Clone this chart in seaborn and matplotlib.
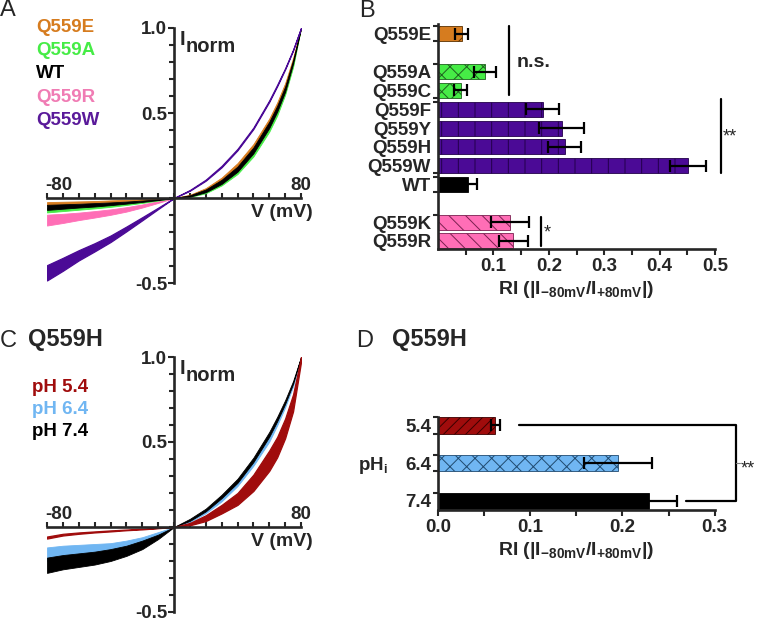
import numpy as np
import pandas as pd
import matplotlib
matplotlib.use("Agg")
import matplotlib.pyplot as plt
import seaborn as sns

sns.set_style("ticks")
plt.rcParams['font.family'] = ['Liberation Sans', 'DejaVu Sans']
plt.rcParams['font.weight'] = 'bold'
plt.rcParams['axes.labelweight'] = 'bold'
plt.rcParams['mathtext.fontset'] = 'custom'
plt.rcParams['mathtext.rm'] = 'Liberation Sans:bold'
plt.rcParams['mathtext.bf'] = 'Liberation Sans:bold'
plt.rcParams['mathtext.it'] = 'Liberation Sans:bold'
plt.rcParams['hatch.linewidth'] = 0.7

# ---- IV curves (mean +/- sem), normalised to +80 mV ----
volts = [-80, -70, -60, -50, -40, -30, -20, -10, 0, 10, 20, 30, 40, 50, 60, 65, 70, 75, 80]

wt_mean = [-0.055, -0.05, -0.045, -0.04, -0.034, -0.027, -0.019, -0.01, 0, 0.012, 0.042, 0.095, 0.17, 0.28, 0.43, 0.525, 0.64, 0.8, 1.0]
wt_sem = [0.015, 0.013, 0.011, 0.01, 0.008, 0.006, 0.004, 0.002, 0, 0.004, 0.008, 0.012, 0.015, 0.017, 0.018, 0.017, 0.015, 0.01, 0]
e_mean = [-0.032, -0.029, -0.026, -0.023, -0.019, -0.015, -0.011, -0.006, 0, 0.016, 0.052, 0.112, 0.195, 0.305, 0.455, 0.55, 0.665, 0.815, 1.0]
e_sem = [0.008, 0.007, 0.006, 0.005, 0.005, 0.004, 0.003, 0.002, 0, 0.003, 0.006, 0.008, 0.01, 0.012, 0.012, 0.012, 0.01, 0.008, 0]
a_mean = [-0.072, -0.065, -0.058, -0.051, -0.044, -0.035, -0.025, -0.013, 0, 0.009, 0.034, 0.083, 0.153, 0.258, 0.405, 0.5, 0.62, 0.78, 1.0]
a_sem = [0.013, 0.012, 0.011, 0.01, 0.008, 0.006, 0.004, 0.002, 0, 0.003, 0.006, 0.009, 0.012, 0.014, 0.015, 0.015, 0.013, 0.01, 0]
r_mean = [-0.13, -0.12, -0.108, -0.096, -0.083, -0.067, -0.047, -0.024, 0, 0.011, 0.04, 0.09, 0.163, 0.27, 0.42, 0.515, 0.632, 0.79, 1.0]
r_sem = [0.032, 0.027, 0.022, 0.019, 0.016, 0.013, 0.009, 0.005, 0, 0.003, 0.006, 0.009, 0.012, 0.014, 0.015, 0.014, 0.012, 0.009, 0]
w_mean = [-0.44, -0.39, -0.337, -0.29, -0.24, -0.182, -0.122, -0.061, 0, 0.045, 0.105, 0.185, 0.285, 0.41, 0.57, 0.662, 0.76, 0.87, 1.0]
w_sem = [0.045, 0.038, 0.03, 0.024, 0.019, 0.014, 0.009, 0.004, 0, 0.002, 0.003, 0.004, 0.004, 0.004, 0.004, 0.004, 0.003, 0.002, 0]

ph74_mean = [-0.225, -0.207, -0.195, -0.183, -0.165, -0.14, -0.105, -0.058, 0, 0.042, 0.1, 0.18, 0.272, 0.395, 0.545, 0.635, 0.735, 0.85, 1.0]
ph74_sem = [0.045, 0.042, 0.04, 0.038, 0.035, 0.03, 0.025, 0.013, 0, 0.006, 0.008, 0.01, 0.012, 0.013, 0.014, 0.013, 0.011, 0.008, 0]
ph64_mean = [-0.16, -0.145, -0.135, -0.125, -0.117, -0.1, -0.075, -0.04, 0, 0.035, 0.088, 0.16, 0.252, 0.372, 0.515, 0.61, 0.715, 0.835, 1.0]
ph64_sem = [0.04, 0.035, 0.03, 0.025, 0.022, 0.02, 0.015, 0.01, 0, 0.005, 0.007, 0.009, 0.011, 0.012, 0.013, 0.012, 0.011, 0.008, 0]
ph54_mean = [-0.062, -0.045, -0.036, -0.029, -0.023, -0.017, -0.012, -0.006, 0, 0.017, 0.052, 0.105, 0.165, 0.26, 0.39, 0.47, 0.58, 0.73, 0.985]
ph54_sem = [0.006, 0.005, 0.004, 0.003, 0.003, 0.002, 0.002, 0.001, 0, 0.007, 0.017, 0.025, 0.035, 0.048, 0.06, 0.06, 0.058, 0.05, 0.015]

# ---- rectification index bars ----
b_labels = ['Q559E', 'Q559A', 'Q559C', 'Q559F', 'Q559Y', 'Q559H', 'Q559W', 'WT', 'Q559K', 'Q559R']
b_ri = [0.043, 0.085, 0.041, 0.189, 0.223, 0.229, 0.451, 0.055, 0.130, 0.136]
b_sem = [0.012, 0.020, 0.012, 0.030, 0.040, 0.030, 0.033, 0.015, 0.034, 0.026]
b_order = ['Q559E', ' ', 'Q559A', 'Q559C', 'Q559F', 'Q559Y', 'Q559H', 'Q559W', 'WT', '  ', 'Q559K', 'Q559R']

d_labels = ['5.4', '6.4', '7.4']
d_ri = [0.062, 0.195, 0.229]
d_sem = [0.005, 0.037, 0.030]

ORANGE = '#d67c1f'
GREEN = '#46ec46'
PURPLE = '#4b0a96'
PINK = '#ff6eb6'
RED = '#a00c0c'
BLUE = '#70b6f2'

b_colors = [ORANGE, GREEN, GREEN, PURPLE, PURPLE, PURPLE, PURPLE, 'black', PINK, PINK]
b_edges = ['#5a3000', '#1f5f1f', '#1f5f1f', '#22004a', '#22004a', '#22004a', '#22004a', 'black', '#7a2050', '#7a2050']
b_hatch = ['/', 'xx', 'xx', '|', '|', '|', '|', '', '\\\\', '\\\\']
d_colors = [RED, BLUE, 'black']
d_edges = ['#3a0000', '#204a70', 'black']
d_hatch = ['///', 'xx', '']

W, H = 758, 619
fig = plt.figure(figsize=(W / 100, H / 100), dpi=100)


def px(x, y):
    return x / W, 1 - y / H


def rect(x0, y0, x1, y1):
    return [x0 / W, 1 - y1 / H, (x1 - x0) / W, (y1 - y0) / H]


def iv_axes(r):
    ax = fig.add_axes(r)
    ax.set_xlim(-80, 80)
    ax.set_ylim(-0.5, 1.0)
    for s in ['top', 'right']:
        ax.spines[s].set_visible(False)
    ax.spines['left'].set_position(('data', 0))
    ax.spines['bottom'].set_position(('data', 0))
    for s in ['left', 'bottom']:
        ax.spines[s].set_linewidth(1.9)
    ax.set_xticks(np.arange(-80, 81, 10))
    ax.set_xticklabels([])
    ax.tick_params(axis='x', direction='in', length=3.5, width=1.5)
    ax.set_yticks([-0.5, 0.5, 1.0])
    ax.set_yticklabels(['-0.5', '0.5', '1.0'], fontsize=13.5, fontweight='bold')
    ax.set_yticks(np.arange(-0.5, 1.01, 0.1), minor=True)
    ax.tick_params(axis='y', which='major', direction='out', length=4, width=1.5, pad=1)
    ax.tick_params(axis='y', which='minor', direction='out', length=3.5, width=1.5)
    ax.patch.set_alpha(0)
    return ax


def band(ax, mean, sem, color, lw=0.6):
    m = np.array(mean)
    s = np.array(sem)
    ax.fill_between(volts, m - s, m + s, color=color, linewidth=lw, edgecolor=color)


# ---- panel A ----
axA = iv_axes(rect(47, 28, 301, 283))
band(axA, r_mean, r_sem, PINK)
band(axA, a_mean, a_sem, GREEN)
band(axA, e_mean, e_sem, ORANGE)
band(axA, wt_mean, wt_sem, 'black')
band(axA, w_mean, w_sem, PURPLE, lw=0.9)

# ---- panel C ----
axC = iv_axes(rect(47, 357, 301, 612))
band(axC, ph64_mean, ph64_sem, BLUE)
band(axC, ph74_mean, ph74_sem, 'black')
band(axC, ph54_mean, ph54_sem, RED, lw=0.9)

for dy in [0, 329]:
    fig.text(*px(45, 190 + dy), '-80', fontsize=13.5, ha='left', va='baseline')
    fig.text(*px(301, 190 + dy), '80', fontsize=13.5, ha='center', va='baseline')
    fig.text(*px(282, 217 + dy), 'V (mV)', fontsize=14, ha='center', va='baseline')
    fig.text(*px(180, 45 + dy), 'I', fontsize=14.5, ha='left', va='baseline')
    fig.text(*px(186, 52 + dy), 'norm', fontsize=14.5, ha='left', va='baseline')

leg_a = [('Q559E', ORANGE), ('Q559A', GREEN), ('WT', 'black'), ('Q559R', '#f07cb4'), ('Q559W', '#5a1a9a')]
for i, (t, c) in enumerate(leg_a):
    fig.text(*px(36, 27 + 23.4 * i), t, color=c, fontsize=13.5, va='center', ha='left')
leg_c = [('pH 5.4', RED), ('pH 6.4', BLUE), ('pH 7.4', 'black')]
for i, (t, c) in enumerate(leg_c):
    fig.text(*px(32, 387 + 22 * i), t, color=c, fontsize=13.5, va='center', ha='left')

# ---- bar panels ----
def bar_axes(r, labels, vals, errs, order, colors, edges, hatches, width, xlim):
    ax = fig.add_axes(r)
    df = pd.DataFrame({'group': labels, 'ri': vals})
    sns.barplot(data=df, y='group', x='ri', order=order, hue='group',
                palette=dict(zip(labels, colors)), legend=False, width=width,
                errorbar=None, ax=ax, linewidth=0.6, saturation=1)
    for p in ax.patches:
        idx = order[int(round(p.get_y() + p.get_height() / 2))]
        k = labels.index(idx)
        p.set_hatch(hatches[k])
        p.set_edgecolor(edges[k])
    ys = [order.index(l) for l in labels]
    ax.errorbar(vals, ys, xerr=errs, fmt='none', ecolor='black',
                elinewidth=1.6, capsize=4, capthick=1.6, zorder=5)
    ax.set_xlim(*xlim)
    sns.despine(ax=ax)
    for s in ['left', 'bottom']:
        ax.spines[s].set_linewidth(1.9)
    ax.set_ylabel('')
    ax.set_xlabel(r'RI (|I$_{\mathbf{-80mV}}$/I$_{\mathbf{+80mV}}$|)', fontsize=14,
                  fontweight='bold', labelpad=3)
    ax.set_yticks(range(len(order)))
    ax.set_yticklabels(order, fontsize=13.5, fontweight='bold')
    ax.tick_params(axis='y', which='major', length=0, pad=5)
    ax.tick_params(axis='y', which='minor', length=3.5, width=1.5, direction='out')
    ax.tick_params(axis='x', which='both', length=4.5, width=1.5, direction='out', pad=2)
    ax.patch.set_alpha(0)
    return ax


axB = bar_axes(rect(438, 24, 715, 249), b_labels, b_ri, b_sem, b_order,
               b_colors, b_edges, b_hatch, 0.8, (0, 0.5))
axB.set_ylim(11.43, -0.53)
axB.set_xticks([0.1, 0.2, 0.3, 0.4, 0.5])
axB.set_xticklabels(['0.1', '0.2', '0.3', '0.4', '0.5'], fontsize=13.5, fontweight='bold')
axB.set_xticks([0.05, 0.15, 0.25, 0.35, 0.45], minor=True)
axB.set_yticks([-0.4, 0.4, 1.6, 3.4, 3.6, 7.4, 7.6, 8.4, 9.6], minor=True)

# significance marks B
axB.plot([0.128, 0.128], [-0.43, 3.24], color='black', lw=1.6, clip_on=False)
axB.text(0.142, 1.54, 'n.s.', fontsize=14, ha='left', va='center')
axB.plot([0.51, 0.51], [3.46, 7.39], color='black', lw=1.6, clip_on=False)
axB.text(0.514, 5.45, '**', fontsize=13, fontweight='normal', ha='left', va='center')
axB.plot([0.186, 0.186], [9.73, 11.28], color='black', lw=1.6, clip_on=False)
axB.text(0.19, 10.6, '*', fontsize=13, fontweight='normal', ha='left', va='center')

axD = bar_axes(rect(438, 417, 714.7, 510), d_labels, d_ri, d_sem, d_labels,
               d_colors, d_edges, d_hatch, 0.44, (0, 0.3))
axD.set_ylim(2.24, -0.21)
axD.set_xticks([0, 0.1, 0.2, 0.3])
axD.set_xticklabels(['0.0', '0.1', '0.2', '0.3'], fontsize=13.5, fontweight='bold')
axD.set_xticks([0.05, 0.15, 0.25], minor=True)
axD.set_yticks([-0.22, 0.22, 0.78, 1.22, 1.78], minor=True)

axD.plot([0.088, 0.323, 0.323, 0.269], [0, 0, 2, 2], color='black', lw=1.6, clip_on=False)
axD.plot([0.323, 0.327], [1, 1], color='gray', lw=0.8, clip_on=False)
axD.text(0.328, 1.15, '**', fontsize=13, fontweight='normal', ha='left', va='center')
fig.text(*px(373, 465), r'pH$_\mathbf{i}$', fontsize=13.5, ha='center', va='center')

# ---- panel letters and titles ----
for lx, ly, t in [(8, 10, 'A'), (367, 11, 'B'), (8, 341, 'C'), (365, 341, 'D')]:
    fig.text(*px(lx, ly), t, fontsize=17, fontweight='normal', ha='center', va='center')
fig.text(*px(28, 340), 'Q559H', fontsize=17, ha='left', va='center')
fig.text(*px(392, 340), 'Q559H', fontsize=17, ha='left', va='center')

fig.savefig('out.png', dpi=100)
